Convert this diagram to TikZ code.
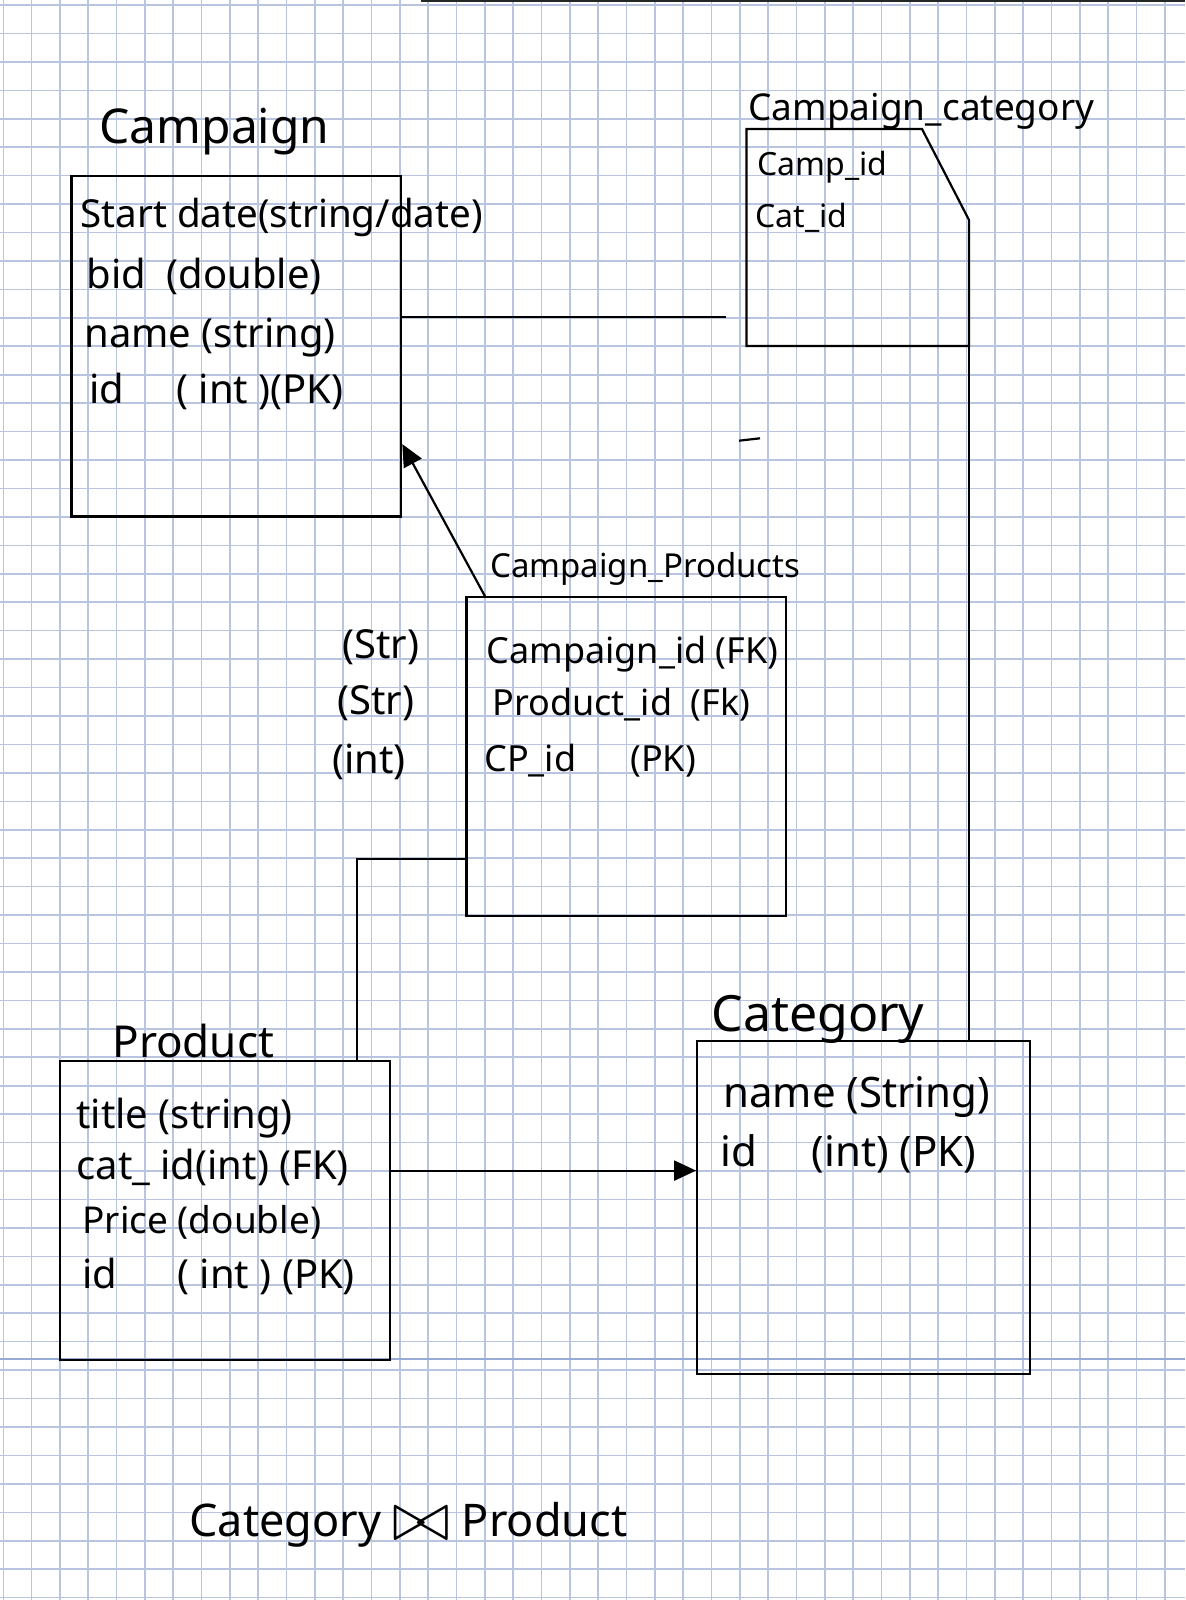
\documentclass[tikz,border=0pt]{standalone}
\usepackage{graphicx}
\usepackage{fontspec}
\setmainfont{Noto Sans}
\usetikzlibrary{arrows.meta}
\definecolor{gridblue}{RGB}{184,196,224}
\definecolor{ruleblue}{RGB}{150,172,214}

\begin{document}
\begin{tikzpicture}[x=0.5pt, y=-0.5pt,
  table/.style={draw, rectangle, line width=1.1pt, inner sep=0pt},
  lbl/.style={inner sep=0pt, anchor=base west},
  field/.style={lbl, font=\fontsize{20pt}{24pt}\selectfont},
  arr/.style={-{Triangle[length=11pt, width=10pt]}, line width=1.1pt}]
\fill[white] (0,0) rectangle (1185,1600);
\useasboundingbox (0,0) rectangle (1185,1600);

% grid paper
\foreach \i in {0,...,41}
  \draw[gridblue, line width=0.8pt] ({3.3+28.33*\i},0) -- ({3.3+28.33*\i},1600);
\foreach \j in {0,...,56}
  \draw[gridblue, line width=0.8pt] (0,{5+28.44*\j}) -- (1185,{5+28.44*\j});
\draw[ruleblue, line width=1.3pt] (0,1359) -- (1185,1359);
\draw[black!85, line width=1.2pt] (421,1) -- (1185,1);

% tables
\node[table, minimum width=164.9pt, minimum height=170.4pt] (campaign) at (236.3,346) {};
\node[table, minimum width=159.8pt, minimum height=159.3pt] (cp) at (626.2,756.5) {};
\node[table, minimum width=164.9pt, minimum height=149.3pt] (product) at (225.1,1210.6) {};
\node[table, minimum width=166.4pt, minimum height=166.6pt] (category) at (863.6,1207.4) {};

\coordinate (ccnw) at (746.5,129);
\coordinate (ccse) at (969,346);
\draw[line width=1.1pt] (ccnw) -- (922,129) -- (969,220) -- (ccse) -- (ccnw |- ccse) -- cycle;

% titles
\node[lbl, font=\fontsize{24pt}{28pt}\selectfont] (camptitle) at (99,143) {Campaign};
\node[lbl, font=\fontsize{18.5pt}{22pt}\selectfont] (cctitle) at (748,120) {Campaign\_category};
\node[lbl, font=\fontsize{16.5pt}{20pt}\selectfont] (cptitle) at (490,577) {Campaign\_Products};
\node[lbl, font=\fontsize{22pt}{26pt}\selectfont] (prodtitle) at (112,1057) {Product};
\node[lbl, font=\fontsize{25pt}{30pt}\selectfont] (cattitle) at (711,1031) {Category};

% Campaign fields
\node[field, font=\fontsize{19.3pt}{24pt}\selectfont] (camp1) at (80,227) {Start date(string/date)};
\node[field] (camp2) at (86,288) {bid~~(double)};
\node[field] (camp3) at (84,347) {name (string)};
\node[field] (camp4) at (89,403) {id\hspace{1.3em}( int )(PK)};

% Campaign_category fields
\node[lbl, font=\fontsize{16pt}{20pt}\selectfont] (cc1) at (757,176) {Camp\_id};
\node[lbl, font=\fontsize{16pt}{20pt}\selectfont] (cc2) at (755,227) {Cat\_id};

% Campaign_Products fields
\node[lbl, font=\fontsize{18pt}{22pt}\selectfont] (cp1) at (486,663) {Campaign\_id (FK)};
\node[lbl, font=\fontsize{18pt}{22pt}\selectfont] (cp2) at (492,715) {Product\_id~~(Fk)};
\node[lbl, font=\fontsize{18pt}{22pt}\selectfont] (cp3) at (484,771) {CP\_id\hspace{1.5em}(PK)};
\node[field] (type1) at (342,658) {(Str)};
\node[field] (type2) at (337,714) {(Str)};
\node[field] (type3) at (332,773) {(int)};

% Product fields
\node[field] (prod1) at (76,1128) {title (string)};
\node[field] (prod2) at (76,1179) {cat\_ id(int) (FK)};
\node[field, font=\fontsize{18.5pt}{24pt}\selectfont] (prod3) at (82,1233) {Price (double)};
\node[field] (prod4) at (82,1288) {id\hspace{1.5em}( int ) (PK)};

% Category fields
\node[lbl, font=\fontsize{21pt}{25pt}\selectfont] (cat1) at (723,1107) {name (String)};
\node[lbl, font=\fontsize{21pt}{25pt}\selectfont] (cat2) at (720,1166) {id\hspace{1.3em}(int) (PK)};

% join note
\node[lbl, font=\fontsize{22.5pt}{27pt}\selectfont] (join) at (189,1536) {Category \raisebox{-0.1em}{\scalebox{1.7}{$\bowtie$}} Product};

% links
\coordinate (cclink) at (726,317.3);
\draw[line width=1.1pt] (campaign.east |- cclink) -- (cclink);
\draw[line width=1.1pt] (739,440.7) -- (760,438.3);
\draw[line width=1.1pt] (ccse) -- (ccse |- category.north);
\draw[arr] ([xshift=9.8pt]cp.north west) -- ([yshift=36.7pt]campaign.south east);
\draw[line width=1.1pt] ([yshift=28.8pt]cp.south west) -| ([xshift=149pt]product.north west);
\draw[arr] ([yshift=20pt]product.east) -- ([yshift=20pt]product.east -| category.west);
\end{tikzpicture}
\end{document}
